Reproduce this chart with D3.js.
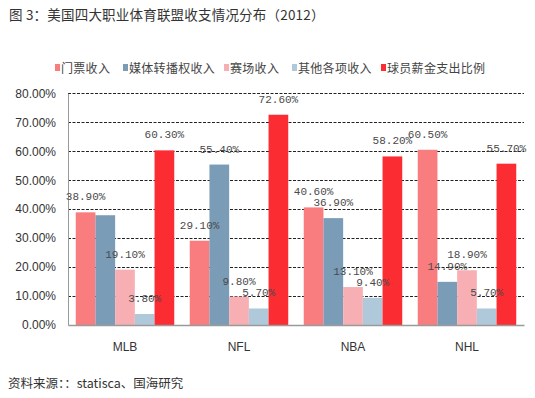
<!DOCTYPE html>
<html>
<head>
<meta charset="utf-8">
<script src="https://cdn.jsdelivr.net/npm/d3@7"></script>
<style>
  body { margin: 0; background: #fff; }
  svg { display: block; }
</style>
</head>
<body>
<script>
// data
var leagues = ['MLB', 'NFL', 'NBA', 'NHL'];
var seriesNames = ['门票收入', '媒体转播权收入', '赛场收入', '其他各项收入', '球员薪金支出比例'];
var seriesColors = ['#f97d7f', '#7a9cb7', '#f7afb3', '#afc8da', '#fc2d32'];
var ticketIncome = [38.9, 29.1, 40.6, 60.5];
var mediaIncome = [37.9, 55.4, 36.9, 14.9];
var venueIncome = [19.1, 9.8, 13.1, 18.9];
var otherIncome = [3.8, 5.7, 9.4, 5.7];
var salaryRatio = [60.3, 72.6, 58.2, 55.7];
// MLB media bar has no label in the original
var hideLabel = [[], ['MLB'], [], [], []];
var yTicks = [0, 10, 20, 30, 40, 50, 60, 70, 80];

var allSeries = [ticketIncome, mediaIncome, venueIncome, otherIncome, salaryRatio];

var W = 535, H = 398;
var m = {left: 68, right: 11, top: 93.3, bottom: 73};

var svg = d3.select('body').append('svg').attr('width', W).attr('height', H);

var x = d3.scaleBand().domain(leagues).range([m.left, W - m.right]).paddingInner(0.136).paddingOuter(0.068);
var xs = d3.scaleBand().domain(d3.range(seriesNames.length)).range([0, x.bandwidth()]);
var y = d3.scaleLinear().domain([0, 80]).range([H - m.bottom, m.top]);

// title
svg.append('text').attr('x', 9).attr('y', 20)
  .style('font-family', '"Noto Sans CJK SC"').style('font-size', '13.5px').style('letter-spacing', '0.2px').attr('fill', '#333')
  .text('图 3：美国四大职业体育联盟收支情况分布（2012）');

// legend
var legendX = [55, 123, 224, 292, 381];
var lg = svg.append('g').selectAll('g').data(seriesNames).enter().append('g')
  .attr('transform', function(d, i){ return 'translate(' + legendX[i] + ',68)'; });
lg.append('rect').attr('x', 0).attr('y', -4).attr('width', 5).attr('height', 7)
  .attr('fill', function(d, i){ return seriesColors[i]; });
lg.append('text').attr('x', 6).attr('y', 4.5)
  .style('font-family', '"Noto Sans CJK SC"').style('font-size', '12px').style('letter-spacing', '0.3px').attr('fill', '#444')
  .text(function(d){ return d; });

// gridlines
svg.append('g').selectAll('line').data(yTicks.filter(function(d){ return d > 0; })).enter().append('line')
  .attr('x1', m.left).attr('x2', W - m.right)
  .attr('y1', function(d){ return Math.round(y(d)) + 0.5; }).attr('y2', function(d){ return Math.round(y(d)) + 0.5; })
  .attr('stroke', '#222').attr('stroke-width', 1).attr('stroke-dasharray', '3,1.5');

// y axis
var yAxis = svg.append('g').attr('transform', 'translate(' + m.left + ',0)')
  .call(d3.axisLeft(y).tickValues(yTicks).tickSize(0).tickPadding(12)
    .tickFormat(function(d){ return d3.format('.2f')(d) + '%'; }));
yAxis.select('.domain').attr('stroke', '#9a9a9a');
yAxis.selectAll('text').style('font-family', '"Liberation Sans", Arial').style('font-size', '12px').attr('fill', '#333');

// bars
var groups = svg.append('g').selectAll('g').data(allSeries).enter().append('g')
  .attr('fill', function(d, i){ return seriesColors[i]; });
groups.each(function(vals, si){
  d3.select(this).selectAll('rect').data(vals).enter().append('rect')
    .attr('x', function(d, i){ return x(leagues[i]) + xs(si); })
    .attr('width', xs.bandwidth())
    .attr('y', function(d){ return y(d); })
    .attr('height', function(d){ return y(0) - y(d); });
});

// x axis
var xAxis = svg.append('g').attr('transform', 'translate(0,' + y(0) + ')')
  .call(d3.axisBottom(x).tickSize(0).tickPadding(17));
xAxis.select('.domain').attr('stroke', '#9a9a9a').attr('stroke-width', 1.5);
xAxis.selectAll('text').style('font-family', '"Liberation Sans", Arial').style('font-size', '12px').attr('fill', '#333');

// data labels
allSeries.forEach(function(vals, si){
  var pts = vals.map(function(v, i){ return {v: v, league: leagues[i]}; })
    .filter(function(d){ return hideLabel[si].indexOf(d.league) < 0; });
  svg.append('g').selectAll('text').data(pts).enter().append('text')
    .attr('x', function(d){ return x(d.league) + xs(si) + xs.bandwidth() / 2; })
    .attr('y', function(d){ return y(d.v) - 12; })
    .attr('text-anchor', 'middle')
    .style('font-family', '"Liberation Mono", monospace').style('font-size', '11px').attr('fill', '#4a4a4a')
    .text(function(d){ return d3.format('.2f')(d.v) + '%'; });
});

// source
svg.append('text').attr('x', 8).attr('y', 388)
  .style('font-family', '"Noto Sans CJK SC"').style('font-size', '12.5px').attr('fill', '#333')
  .text('资料来源：：statisca、国海研究');
</script>
</body>
</html>
